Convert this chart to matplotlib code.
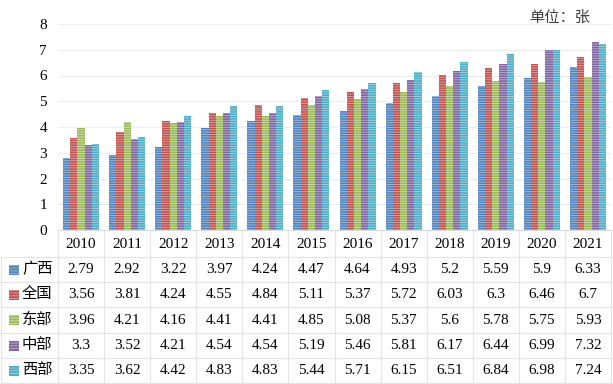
import numpy as np
import matplotlib
matplotlib.use('Agg')
import matplotlib.pyplot as plt
from matplotlib.transforms import blended_transform_factory
from matplotlib.lines import Line2D
from matplotlib.patches import Rectangle

plt.rcParams['font.family'] = ['Liberation Serif', 'Noto Sans CJK SC']
plt.rcParams['hatch.linewidth'] = 0.6

# data
years = ['2010', '2011', '2012', '2013', '2014', '2015', '2016', '2017', '2018', '2019', '2020', '2021']
regions = ['广西', '全国', '东部', '中部', '西部']
guangxi = [2.79, 2.92, 3.22, 3.97, 4.24, 4.47, 4.64, 4.93, 5.2, 5.59, 5.9, 6.33]
national = [3.56, 3.81, 4.24, 4.55, 4.84, 5.11, 5.37, 5.72, 6.03, 6.3, 6.46, 6.7]
east = [3.96, 4.21, 4.16, 4.41, 4.41, 4.85, 5.08, 5.37, 5.6, 5.78, 5.75, 5.93]
central = [3.3, 3.52, 4.21, 4.54, 4.54, 5.19, 5.46, 5.81, 6.17, 6.44, 6.99, 7.32]
west = [3.35, 3.62, 4.42, 4.83, 4.83, 5.44, 5.71, 6.15, 6.51, 6.84, 6.98, 7.24]
series = [guangxi, national, east, central, west]

colors = ['#4F81BD', '#C0504D', '#9BBB59', '#8064A2', '#4BACC6']
stripes = ['#A7C0DE', '#E0A8A6', '#CDDDAC', '#BFB1D0', '#A5D5E2']

W, H = 613, 384
fig = plt.figure(figsize=(W / 100, H / 100), dpi=100)
ax = fig.add_axes([58 / W, 1 - 230 / H, 553 / W, 206 / H])

x = np.arange(len(years))
bw = 0.156
for i, vals in enumerate(series):
    ax.bar(x + (i - 2) * bw, vals, width=bw, color=colors[i],
           edgecolor=stripes[i], linewidth=0, hatch='-------')

ax.set_xlim(-0.5, len(years) - 0.5)
ax.set_ylim(0, 8)
ax.set_yticks(range(0, 9))
ax.set_xticks([])
ax.tick_params(axis='y', length=0, labelsize=11, pad=8)
ax.yaxis.grid(True, color='#EEEEEE', linewidth=0.8)
ax.set_axisbelow(True)
for s in ['top', 'right', 'left']:
    ax.spines[s].set_visible(False)
ax.spines['bottom'].set_color('#D9D9D9')

# data table below the chart
line_c = '#E3E3E3'
def fx(px):
    return px / W
def fy(py):
    return 1 - py / H

fig.text(fx(590), fy(18), '单位：张', ha='right', va='center', fontsize=11, color='#404040')

trans = blended_transform_factory(ax.transData, fig.transFigure)
for j in range(len(years) + 1):
    fig.add_artist(Line2D([j - 0.5, j - 0.5], [fy(231), fy(384)], transform=trans, color=line_c, lw=0.8))
fig.add_artist(Line2D([fx(1), fx(1)], [fy(257), fy(384)], color=line_c, lw=0.8))
row_edges = [257, 282, 307, 333, 358, 383]
for r in row_edges:
    fig.add_artist(Line2D([fx(1), fx(611)], [fy(r), fy(r)], color=line_c, lw=0.8))

for j, yr in enumerate(years):
    fig.text(j, fy(244), yr, transform=trans, ha='center', va='center', fontsize=11)

for i, name in enumerate(regions):
    yc = (row_edges[i] + row_edges[i + 1]) / 2
    fig.add_artist(Rectangle((fx(9), fy(yc + 5)), 10 / W, 10 / H, transform=fig.transFigure,
                             facecolor=colors[i], edgecolor=stripes[i], lw=0, hatch='------'))
    fig.text(fx(22), fy(yc), name, ha='left', va='center', fontsize=11)
    for j, v in enumerate(series[i]):
        fig.text(j, fy(yc), f'{v:g}', transform=trans, ha='center', va='center', fontsize=11)

fig.savefig('out.png', dpi=100)
